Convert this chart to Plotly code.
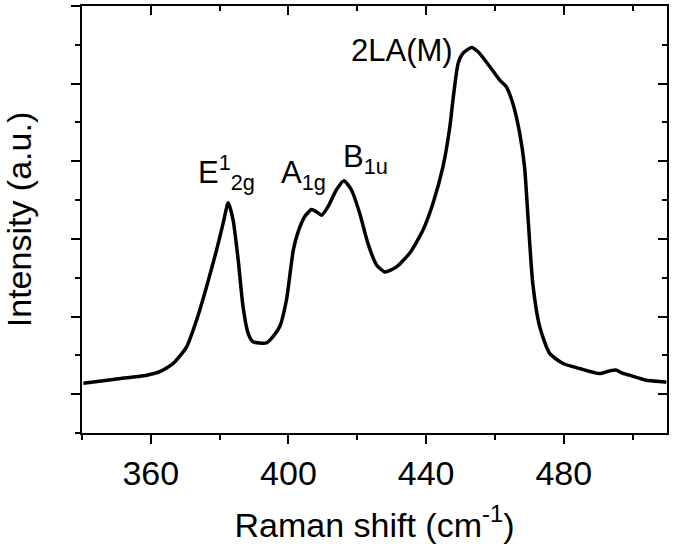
import plotly.graph_objects as go

# Raman spectrum
raman_shift = [
    340.4, 349.1, 358.8, 362.6, 366.5, 370.4, 373.3, 376.2, 379.1, 381.0,
    382.5, 383.9, 385.4, 386.8, 388.3, 389.7, 393.6, 395.5, 397.5, 399.4,
    401.4, 402.8, 404.7, 406.7, 408.1, 409.6, 411.5, 413.9, 416.1, 418.3,
    420.7, 423.1, 425.6, 428.0, 431.4, 435.2, 439.1, 442.0, 444.9, 446.9,
    447.8, 449.3, 450.7, 453.2, 455.1, 458.5, 461.4, 463.3, 465.2, 467.2,
    468.6, 469.6, 471.0, 473.0, 475.9, 479.8, 484.6, 490.4, 493.0, 495.3,
    496.8, 499.1, 504.0, 508.8, 509.8,
]
intensity = [
    2.28, 2.38, 2.49, 2.58, 2.79, 3.22, 3.91, 4.77, 5.71, 6.40,
    6.93, 6.49, 5.45, 4.25, 3.56, 3.35, 3.32, 3.48, 3.75, 4.42,
    5.71, 6.18, 6.57, 6.76, 6.70, 6.61, 6.83, 7.26, 7.50, 7.26,
    6.66, 5.88, 5.33, 5.15, 5.28, 5.63, 6.23, 6.92, 7.86, 8.89,
    9.58, 10.52, 10.78, 10.93, 10.82, 10.44, 10.09, 9.92, 9.49, 8.72,
    7.86, 6.57, 4.85, 3.74, 3.05, 2.79, 2.66, 2.53, 2.59, 2.62,
    2.55, 2.49, 2.36, 2.32, 2.31,
]

# peak labels: text, x, y
peak_labels = ["E<sup>1</sup><sub>2g</sub>", "A<sub>1g</sub>", "B<sub>1u</sub>", "2LA(M)"]
peak_x = [373.0, 397.3, 415.3, 448.5]
peak_y = [7.72, 7.64, 8.06, 10.85]
peak_anchor = ["left", "left", "left", "right"]

x_range = [340, 510]
y_range = [1, 12]

FONT = "Arial, Liberation Sans, sans-serif"

fig = go.Figure()

fig.add_trace(
    go.Scatter(
        x=raman_shift,
        y=intensity,
        mode="lines",
        line=dict(color="black", width=3.5, shape="spline", smoothing=0.6),
        showlegend=False,
        hoverinfo="skip",
    )
)

# dummy trace so the mirrored (inside-tick) axes get drawn
fig.add_trace(
    go.Scatter(
        x=[x_range[0]],
        y=[y_range[0]],
        xaxis="x2",
        yaxis="y2",
        mode="lines",
        showlegend=False,
        hoverinfo="skip",
    )
)

for text, x, y, anchor in zip(peak_labels, peak_x, peak_y, peak_anchor):
    fig.add_annotation(
        x=x,
        y=y,
        text=text,
        showarrow=False,
        xanchor=anchor,
        yanchor="middle",
        font=dict(family=FONT, size=31, color="black"),
    )

tick_common = dict(tickcolor="black", tickwidth=2)

fig.update_layout(
    width=675,
    height=551,
    paper_bgcolor="white",
    plot_bgcolor="white",
    font=dict(family=FONT, size=33, color="black"),
    margin=dict(l=82, r=8, t=6, b=118),
    xaxis=dict(
        range=x_range,
        automargin=False,
        tickmode="linear",
        tick0=360,
        dtick=40,
        ticks="outside",
        ticklen=9,
        minor=dict(dtick=20, tick0=340, ticks="outside", ticklen=5, **tick_common),
        showline=True,
        linecolor="black",
        linewidth=2,
        mirror=True,
        showgrid=False,
        zeroline=False,
        tickfont=dict(size=34),
        title=dict(text="Raman shift (cm<sup>-1</sup>)", font=dict(size=34), standoff=22),
        **tick_common,
    ),
    yaxis=dict(
        range=y_range,
        automargin=False,
        tickmode="linear",
        tick0=0,
        dtick=2,
        ticks="outside",
        ticklen=9,
        minor=dict(dtick=1, tick0=1, ticks="outside", ticklen=5, **tick_common),
        showticklabels=False,
        showline=True,
        linecolor="black",
        linewidth=2,
        mirror=True,
        showgrid=False,
        zeroline=False,
        title=dict(text="Intensity (a.u.)", font=dict(size=34), standoff=30),
        **tick_common,
    ),
    xaxis2=dict(
        range=x_range,
        automargin=False,
        overlaying="x",
        side="top",
        anchor="y",
        tickmode="linear",
        tick0=360,
        dtick=40,
        ticks="inside",
        ticklen=9,
        minor=dict(dtick=20, tick0=340, ticks="inside", ticklen=5, **tick_common),
        showticklabels=False,
        showgrid=False,
        zeroline=False,
        **tick_common,
    ),
    yaxis2=dict(
        range=y_range,
        automargin=False,
        overlaying="y",
        side="right",
        anchor="x",
        tickmode="linear",
        tick0=0,
        dtick=2,
        ticks="inside",
        ticklen=9,
        minor=dict(dtick=1, tick0=1, ticks="inside", ticklen=5, **tick_common),
        showticklabels=False,
        showgrid=False,
        zeroline=False,
        **tick_common,
    ),
)

# drop the browser's default 8px body margin so the figure sits at (0, 0)
fig.write_html(
    "out.html",
    config={"displayModeBar": False},
    post_script="document.body.style.margin = '0';",
)
